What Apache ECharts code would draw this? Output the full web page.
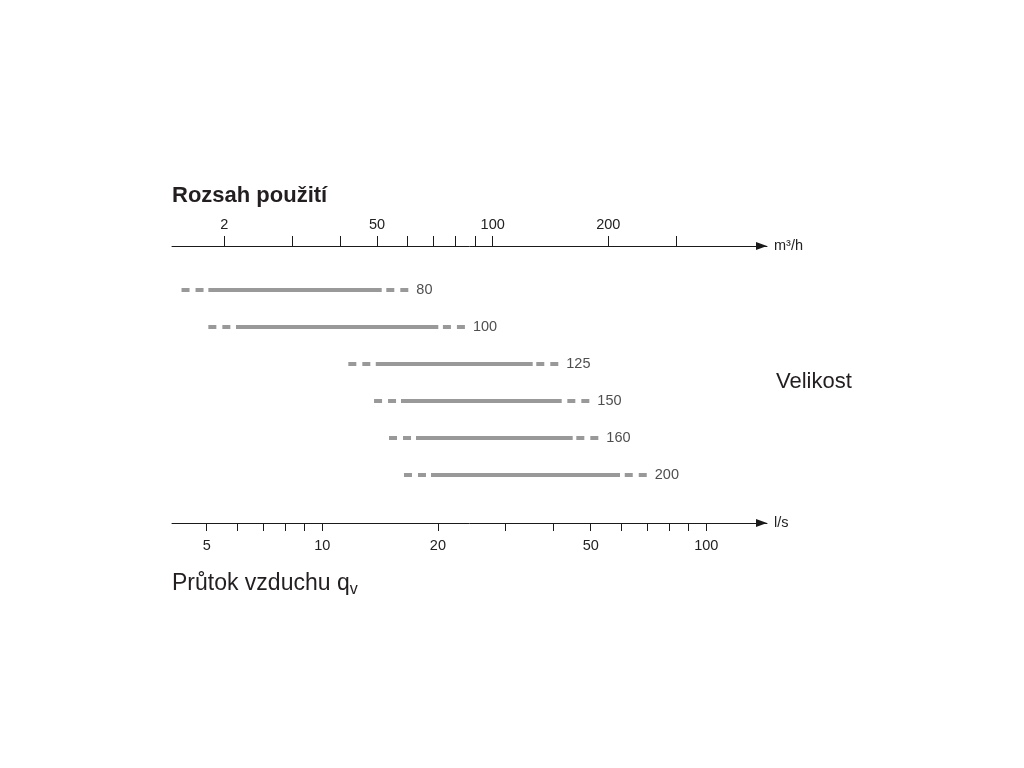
<!DOCTYPE html>
<html><head><meta charset="utf-8">
<script src="https://cdn.jsdelivr.net/npm/echarts@6/dist/echarts.min.js"></script>
<style>html,body{margin:0;padding:0;background:#fff}#c{width:1024px;height:768px}</style>
</head><body><div id="c"></div>
<script>
// Sizes (Velikost) and flow ranges in l/s
const sizes    = ['80', '100', '125', '150', '160', '200'];
const dashMin  = [4.30, 5.05, 11.69, 13.64, 14.92, 16.32];
const solidMin = [5.05, 5.96, 13.78, 16.03, 17.54, 19.19];
const solidMax = [14.28, 20.05, 35.31, 42.02, 44.88, 59.6];
const dashMax  = [16.75, 23.52, 41.17, 49.59, 52.34, 69.97];

// Axis ticks / labels
const lsTicks  = [5, 6, 7, 8, 9, 10, 20, 30, 40, 50, 60, 70, 80, 90, 100];
const lsLabels = [5, 10, 20, 50, 100];
const m3hTicks = [20, 30, 40, 50, 60, 70, 80, 90, 100, 200, 300];
const m3hLabelValues = [20, 50, 100, 200];
const m3hLabelTexts  = ['2', '50', '100', '200'];
const LS_TO_M3H = 3.6;
const lsMin = 4.061, lsMax = 143.9;

const FONT = 'Liberation Sans, Arial, sans-serif';
const BAR = '#999999';
const AX = '#1a1a1a';

const chart = echarts.init(document.getElementById('c'), null, {renderer: 'canvas'});

function axisCommon() {
  return {
    type: 'log',
    logBase: 10,
    nameLocation: 'end',
    nameGap: 7,
    nameTextStyle: {fontSize: 14.5, color: '#222', fontFamily: FONT},
    axisLine: {show: true, onZero: false, lineStyle: {color: AX, width: 1},
      symbol: ['none', 'triangle'], symbolSize: [8, 11], symbolOffset: [0, -5.5]},
    splitLine: {show: false},
    minorTick: {show: false},
    minorSplitLine: {show: false}
  };
}

const series = [];
sizes.forEach((s, i) => {
  const base = {type: 'line', symbol: 'none', showSymbol: false, silent: true,
    animation: false, xAxisIndex: 0, yAxisIndex: 0};
  series.push(Object.assign({}, base, {
    data: [[dashMin[i], i], [solidMin[i], i]],
    lineStyle: {color: BAR, width: 4, type: [8, 6], cap: 'butt'}
  }));
  series.push(Object.assign({}, base, {
    data: [[solidMin[i], i], [solidMax[i], i]],
    lineStyle: {color: BAR, width: 4, type: 'solid', cap: 'butt'}
  }));
  series.push(Object.assign({}, base, {
    data: [[dashMax[i], i], [solidMax[i], i]],
    lineStyle: {color: BAR, width: 4, type: [8, 6], cap: 'butt'}
  }));
});
series.push({
  type: 'scatter', symbolSize: 0, silent: true, animation: false,
  data: dashMax.map((v, i) => ({value: [v, i], name: sizes[i]})),
  label: {show: true, position: 'right', distance: 8, formatter: p => p.name,
    fontSize: 14.5, color: '#222', fontFamily: FONT}
});

const option = {
  backgroundColor: '#fff',
  animation: false,
  textStyle: {fontFamily: FONT},
  grid: {left: 172, top: 246, width: 595, height: 277, containLabel: false},
  xAxis: [
    Object.assign(axisCommon(), {
      position: 'bottom', min: lsMin, max: lsMax, name: 'l/s',
      axisTick: {show: true, length: 8, customValues: lsTicks, lineStyle: {color: AX, width: 1}},
      axisLabel: {show: true, customValues: lsLabels, margin: 15, fontSize: 14.5, color: '#222',
        fontFamily: FONT, formatter: v => String(v)}
    }),
    Object.assign(axisCommon(), {
      position: 'top', min: lsMin * LS_TO_M3H, max: lsMax * LS_TO_M3H, name: 'm³/h',
      axisTick: {show: true, length: 10, customValues: m3hTicks, lineStyle: {color: AX, width: 1}},
      axisLabel: {show: true, customValues: m3hLabelValues, margin: 14, fontSize: 14.5, color: '#222',
        fontFamily: FONT, formatter: v => {
          const k = m3hLabelValues.findIndex(x => Math.abs(x - v) < 1e-6);
          return k >= 0 ? m3hLabelTexts[k] : '';
        }}
    })
  ],
  yAxis: {type: 'value', min: -1.19, max: 6.3, inverse: true, show: false},
  graphic: [
    {type: 'text', silent: true, style: {x: 172, y: 196, text: 'Rozsah použití',
      font: 'bold 22px ' + FONT, fill: '#231f20', verticalAlign: 'middle', align: 'left'}},
    {type: 'text', silent: true, style: {x: 776, y: 382, text: 'Velikost',
      font: '22px ' + FONT, fill: '#231f20', verticalAlign: 'middle', align: 'left'}},
    {type: 'text', silent: true, style: {x: 172, y: 584, text: '{m|Průtok vzduchu q}{s|v}',
      verticalAlign: 'middle', align: 'left',
      rich: {
        m: {fontSize: 23, fontFamily: FONT, fill: '#231f20', lineHeight: 28},
        s: {fontSize: 16, fontFamily: FONT, fill: '#231f20', lineHeight: 14, verticalAlign: 'bottom'}
      }}}
  ],
  series: series
};
chart.setOption(option);
</script>
</body></html>
